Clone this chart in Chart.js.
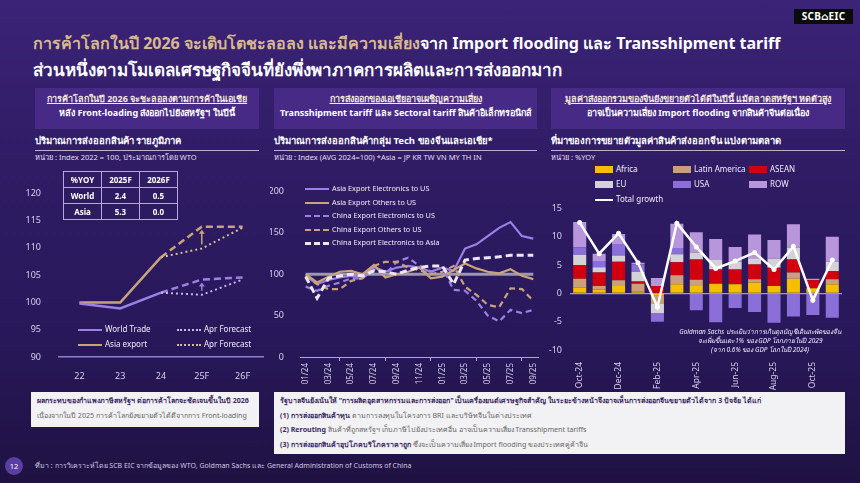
<!DOCTYPE html>
<html>
<head>
<meta charset="utf-8">
<script src="https://cdn.jsdelivr.net/npm/chart.js"></script>
<style>
  html, body { margin: 0; padding: 0; }
  body {
    width: 860px; height: 483px; overflow: hidden; position: relative;
    background: linear-gradient(180deg, #3b2377 0%, #2f1c64 35%, #28185a 70%, #1f1242 100%);
    font-family: "Noto Sans", "DejaVu Sans", sans-serif; color: #fff;
  }
  .abs { position: absolute; }
  .title { left: 33px; font-weight: bold; white-space: nowrap; }
  .logo { left: 794px; top: 9px; width: 59px; height: 15px; background: #0b0b0b; font-size: 10px;
          font-weight: bold; text-align: center; line-height: 15px; letter-spacing: 0.3px; }
  .hbox { top: 88px; height: 41px; background: #472a86; text-align: center; font-size: 9px; font-weight: bold; }
  .hbox div { line-height: 14px; }
  .hbox .u { text-decoration: underline; color: #f3e9dc; margin-top: 4px; }
  .sub { top: 133px; font-size: 9.5px; font-weight: bold; border-bottom: 1.5px solid #b9b0d6; padding-bottom: 2px; }
  .unit { top: 151px; font-size: 7.5px; color: #e4def2; white-space: nowrap; }
  .leg { font-size: 8px; color: #f1ecfb; white-space: nowrap; }
  .leg span.s { display: inline-block; width: 24px; vertical-align: middle; margin-right: 3px; }
  .sw { display: inline-block; width: 18px; height: 7px; vertical-align: middle; margin-right: 3px; }
  table.t { border-collapse: collapse; font-size: 8px; font-weight: bold; }
  table.t td { border: 1px solid #b6a6e2; width: 37px; height: 15px; text-align: center; padding: 0; }
  .wbox { background: #f2f1f4; color: #3a2a62; font-size: 7.1px; white-space: nowrap; }
  .wbox div { line-height: 14.5px; }
  .g { color: #666; font-weight: normal; }
  .note { font-size: 6.5px; font-style: italic; text-align: center; line-height: 9px; color: #f4f0ff; white-space: nowrap; }
</style>
</head>
<body>

<div class="abs title" style="top:31px;font-size:16px;"><span style="color:#d8b98e">การค้าโลกในปี 2026 จะเติบโตชะลอลง และมีความเสี่ยง</span>จาก Import flooding และ Transshipment tariff</div>
<div class="abs title" style="top:56px;font-size:17px;">ส่วนหนึ่งตามโมเดลเศรษฐกิจจีนที่ยังพึ่งพาภาคการผลิตและการส่งออกมาก</div>
<div class="abs logo">SCB⌂EIC</div>

<div class="abs hbox" style="left:35px;width:224px;"><div class="u">การค้าโลกในปี 2026 จะชะลอลงตามการค้าในเอเชีย</div><div>หลัง Front-loading ส่งออกไปยังสหรัฐฯ ในปีนี้</div></div>
<div class="abs hbox" style="left:274px;width:263px;"><div class="u">การส่งออกของเอเชียอาจเผชิญความเสี่ยง</div><div>Transshipment tariff และ Sectoral tariff สินค้าอิเล็กทรอนิกส์</div></div>
<div class="abs hbox" style="left:551px;width:294px;"><div class="u">มูลค่าส่งออกรวมของจีนยังขยายตัวได้ดีในปีนี้ แม้ตลาดสหรัฐฯ หดตัวสูง</div><div>อาจเป็นความเสี่ยง Import flooding จากสินค้าจีนต่อเนื่อง</div></div>

<div class="abs sub" style="left:35px;width:224px;">ปริมาณการส่งออกสินค้า รายภูมิภาค</div>
<div class="abs unit" style="left:35px;">หน่วย : Index 2022 = 100, ประมาณการโดย WTO</div>
<div class="abs sub" style="left:274px;width:263px;">ปริมาณการส่งออกสินค้ากลุ่ม Tech ของจีนและเอเชีย*</div>
<div class="abs unit" style="left:274px;">หน่วย : Index (AVG 2024=100) *Asia = JP KR TW VN MY TH IN</div>
<div class="abs sub" style="left:551px;width:294px;">ที่มาของการขยายตัวมูลค่าสินค้าส่งออกจีน แบ่งตามตลาด</div>
<div class="abs unit" style="left:551px;">หน่วย : %YOY</div>

<div class="abs" style="left:20px;top:178px;width:250px;height:205px;"><canvas id="c1"></canvas></div>
<div class="abs" style="left:270px;top:178px;width:275px;height:211px;"><canvas id="c2"></canvas></div>
<div class="abs" style="left:545px;top:195px;width:305px;height:195px;"><canvas id="c3"></canvas></div>

<table class="abs t" style="left:63px;top:171px;">
  <tr><td>%YOY</td><td>2025F</td><td>2026F</td></tr>
  <tr><td>World</td><td>2.4</td><td>0.5</td></tr>
  <tr><td>Asia</td><td>5.3</td><td>0.0</td></tr>
</table>

<div class="abs leg" style="left:78px;top:323px;"><span class="s" style="border-top:2.5px solid #9b80e6"></span>World Trade</div>
<div class="abs leg" style="left:177px;top:323px;"><span class="s" style="border-top:2px dotted #c7b8f2"></span>Apr Forecast</div>
<div class="abs leg" style="left:78px;top:338px;"><span class="s" style="border-top:2.5px solid #c9a47a"></span>Asia export</div>
<div class="abs leg" style="left:177px;top:338px;"><span class="s" style="border-top:2px dotted #d8bb90"></span>Apr Forecast</div>

<div class="abs leg" style="left:305px;top:182px;line-height:13.5px;font-size:7.3px;">
  <div><span class="s" style="border-top:2.5px solid #9b80e6"></span>Asia Export Electronics to US</div>
  <div><span class="s" style="border-top:2.5px solid #c9a47a"></span>Asia Export Others to US</div>
  <div><span class="s" style="border-top:2.5px dashed #9b80e6"></span>China Export Electronics to US</div>
  <div><span class="s" style="border-top:2.5px dashed #c9a47a"></span>China Export Others to US</div>
  <div><span class="s" style="border-top:3px dashed #ece6f8"></span>China Export Electronics to Asia</div>
</div>

<div class="abs leg" style="left:595px;top:163px;"><span class="sw" style="background:#f5bf00"></span>Africa</div>
<div class="abs leg" style="left:673px;top:163px;"><span class="sw" style="background:#c9a07a"></span>Latin America</div>
<div class="abs leg" style="left:749px;top:163px;"><span class="sw" style="background:#d2000f"></span>ASEAN</div>
<div class="abs leg" style="left:595px;top:178px;"><span class="sw" style="background:#d4d2d6"></span>EU</div>
<div class="abs leg" style="left:673px;top:178px;"><span class="sw" style="background:#8a6fd8"></span>USA</div>
<div class="abs leg" style="left:749px;top:178px;"><span class="sw" style="background:#b896dc"></span>ROW</div>
<div class="abs leg" style="left:595px;top:193px;"><span class="sw" style="height:0;border-top:2.5px solid #fff"></span>Total growth</div>

<div class="abs note" style="left:660px;top:327px;width:200px;">Goldman Sachs ประเมินว่าการเกินดุลบัญชีเดินสะพัดของจีน<br>จะเพิ่มขึ้นแตะ 1% ของ GDP โลกภายในปี 2029<br>(จาก 0.6% ของ GDP โลกในปี 2024)</div>

<div class="abs wbox" style="left:31px;top:392px;width:222px;height:34px;padding-left:6px;padding-top:1px;">
  <div><b>ผลกระทบของกำแพงภาษีสหรัฐฯ ต่อการค้าโลกจะชัดเจนขึ้นในปี 2026</b></div>
  <div class="g">เนื่องจากในปี 2025 การค้าโลกยังขยายตัวได้ดีจากการ Front-loading</div>
</div>
<div class="abs wbox" style="left:274px;top:392px;width:565px;height:61px;padding-left:6px;padding-top:1px;">
  <div><b>รัฐบาลจีนยังเน้นให้ "การผลิตอุตสาหกรรมและการส่งออก" เป็นเครื่องยนต์เศรษฐกิจสำคัญ ในระยะข้างหน้าจึงอาจเห็นการส่งออกจีนขยายตัวได้จาก 3 ปัจจัย ได้แก่</b></div>
  <div><b>(1) การส่งออกสินค้าทุน</b> <span class="g">ตามการลงทุนในโครงการ BRI และบริษัทจีนในต่างประเทศ</span></div>
  <div><b>(2) Rerouting</b> <span class="g">สินค้าที่ถูกสหรัฐฯ เก็บภาษีไปยังประเทศอื่น อาจเป็นความเสี่ยง Transshipment tariffs</span></div>
  <div><b>(3) การส่งออกสินค้าอุปโภคบริโภคราคาถูก</b> <span class="g">ซึ่งจะเป็นความเสี่ยง Import flooding ของประเทศคู่ค้าจีน</span></div>
</div>

<div class="abs" style="left:5px;top:457px;width:18px;height:18px;border-radius:9px;background:#5a3ea2;font-size:7.5px;text-align:center;line-height:18px;">12</div>
<div class="abs" style="left:35px;top:460px;font-size:7px;color:#cfc8e2;white-space:nowrap;">ที่มา : การวิเคราะห์โดย SCB EIC จากข้อมูลของ WTO, Goldman Sachs และ General Administration of Customs of China</div>

<script>
// ---- left: export volume by region ----
var years = ["22", "23", "24", "25F", "26F"];
var worldTrade = [99.8, 98.9, 101.8, null, null];
var worldNew = [null, null, 101.8, 104.2, 104.6];
var worldApr = [null, null, 101.8, 101.4, 104.2];
var asiaExport = [100, 100, 108.3, null, null];
var asiaNew = [null, null, 108.3, 113.9, 113.9];
var asiaApr = [null, null, 108.3, 109.9, 113.7];

// ---- middle: tech exports ----
var months = ["01/24","02/24","03/24","04/24","05/24","06/24","07/24","08/24","09/24","10/24","11/24","12/24",
              "01/25","02/25","03/25","04/25","05/25","06/25","07/25","08/25","09/25"];
var asiaElecUS   = [98, 88, 93, 96, 98, 97, 109, 103, 108, 110, 108, 103, 108, 104, 131, 136, 146, 156, 163, 146, 143];
var asiaOthersUS = [100, 90, 97, 103, 104, 100, 111, 96, 100, 103, 108, 95, 97, 105, 113, 107, 103, 101, 106, 98, 94];
var chinaElecUS  = [85, 80, 86, 90, 95, 95, 106, 100, 115, 120, 110, 103, 108, 81, 80, 68, 50, 43, 57, 53, 57];
var chinaOthersUS = [98, 88, 82, 82, 92, 95, 110, 115, 115, 108, 105, 100, 103, 110, 85, 75, 63, 60, 83, 82, 68];
var chinaElecAsia = [97, 71, 95, 98, 100, 98, 104, 103, 100, 105, 108, 110, 110, 88, 117, 119, 120, 121, 123, 123, 123];

// ---- right: China export growth by market ----
var mLabels = ["Oct-24","Nov-24","Dec-24","Jan-25","Feb-25","Mar-25","Apr-25","May-25","Jun-25","Jul-25","Aug-25","Sep-25","Oct-25","Nov-25"];
var africa = [1.0, 0.7, 1.3, 0.3, -0.4, 1.6, 1.3, 1.7, 1.6, 1.9, 1.3, 2.6, 0.9, 1.6];
var latam  = [1.6, 0.6, 1.0, 1.4, -1.5, 1.6, 1.1, 0, 0, 0.6, 0, 1.1, 0, 0.9];
var asean  = [2.4, 2.4, 3.3, 0.4, 1.3, 2.3, 3.6, 2.5, 2.6, 2.6, 3.2, 2.3, 1.4, 1.4];
var eu     = [1.8, 0.9, 1.1, 1.7, -1.6, 1.4, 1.2, 1.7, 1.4, 1.1, 1.6, 2.1, 0, 1.7];
var usa    = [1.3, 1.1, 2.0, 1.3, -1.5, 1.1, -3.0, -5.1, -2.6, -3.3, -5.2, -4.1, -3.8, -4.3];
var row    = [4.5, 1.3, 1.8, 0.3, 1.4, 4.3, 3.6, 3.7, 2.6, 4.2, 3.3, 4.1, 0.3, 4.4];
var totalGrowth = [12.5, 7.0, 10.6, 5.4, -2.4, 12.4, 8.2, 4.4, 5.7, 7.2, 4.2, 8.3, -1.2, 5.9];

Chart.defaults.font.family = '"Noto Sans", "DejaVu Sans", sans-serif';
Chart.defaults.color = "#d8d0ee";
Chart.defaults.animation = false;
Chart.defaults.plugins.legend.display = false;
Chart.defaults.plugins.tooltip.enabled = false;

var purple = "#9b80e6", tan = "#c9a47a";

function fixW(w) { return function (s) { s.width = w; }; }
function fixH(h) { return function (s) { s.height = h; }; }

// arrows from April forecast up to the new forecast at 25F
var upArrows = {
  id: "upArrows",
  afterDatasetsDraw: function (chart) {
    var ctx = chart.ctx, x = chart.scales.x, y = chart.scales.y;
    [[worldApr, worldNew, purple], [asiaApr, asiaNew, tan]].forEach(function (p) {
      var px = x.getPixelForValue(3);
      var y0 = y.getPixelForValue(p[0][3]) - 4, y1 = y.getPixelForValue(p[1][3]) + 3;
      ctx.save();
      ctx.strokeStyle = p[2]; ctx.fillStyle = p[2]; ctx.lineWidth = 1.5;
      ctx.beginPath(); ctx.moveTo(px, y0); ctx.lineTo(px, y1 + 3); ctx.stroke();
      ctx.beginPath(); ctx.moveTo(px, y1); ctx.lineTo(px - 3, y1 + 4); ctx.lineTo(px + 3, y1 + 4); ctx.closePath(); ctx.fill();
      ctx.restore();
    });
  }
};

new Chart("c1", {
  type: "line",
  data: {
    labels: years,
    datasets: [
      { data: worldApr, borderColor: "#c7b8f2", borderWidth: 2, borderDash: [2, 3], pointRadius: 0 },
      { data: asiaApr, borderColor: "#d8bb90", borderWidth: 2, borderDash: [2, 3], pointRadius: 0 },
      { data: worldNew, borderColor: purple, borderWidth: 2.5, borderDash: [7, 4], pointRadius: 0 },
      { data: asiaNew, borderColor: tan, borderWidth: 2.5, borderDash: [7, 4], pointRadius: 0 },
      { data: worldTrade, borderColor: purple, borderWidth: 2.5, pointRadius: 0 },
      { data: asiaExport, borderColor: tan, borderWidth: 2.5, pointRadius: 0 }
    ]
  },
  options: {
    responsive: true, maintainAspectRatio: false,
    layout: { padding: { top: 10, right: 7 } },
    scales: {
      x: { offset: true, grid: { display: false }, border: { color: "#8d7fcc", width: 1.5 },
           ticks: { font: { size: 9 }, padding: 6 }, afterFit: fixH(26) },
      y: { min: 90, max: 120, ticks: { stepSize: 5, font: { size: 9 }, padding: 10 },
           grid: { display: false }, border: { display: false }, afterFit: fixW(39) }
    }
  },
  plugins: [upArrows]
});

// grey reference line at 100
var baseLine = {
  id: "baseLine",
  beforeDatasetsDraw: function (chart) {
    var ctx = chart.ctx, x = chart.scales.x, y = chart.scales.y;
    var py = y.getPixelForValue(100);
    ctx.save();
    ctx.strokeStyle = "#9c99ad"; ctx.lineWidth = 3;
    ctx.beginPath(); ctx.moveTo(x.getPixelForValue(0), py); ctx.lineTo(x.getPixelForValue(months.length - 1), py); ctx.stroke();
    ctx.restore();
  }
};

new Chart("c2", {
  type: "line",
  data: {
    labels: months,
    datasets: [
      { data: chinaElecAsia, borderColor: "#ece6f8", borderWidth: 3, borderDash: [7, 4], pointRadius: 0 },
      { data: chinaOthersUS, borderColor: tan, borderWidth: 2.2, borderDash: [6, 4], pointRadius: 0 },
      { data: chinaElecUS, borderColor: purple, borderWidth: 2.2, borderDash: [6, 4], pointRadius: 0 },
      { data: asiaOthersUS, borderColor: tan, borderWidth: 2.2, pointRadius: 0 },
      { data: asiaElecUS, borderColor: purple, borderWidth: 2.2, pointRadius: 0 }
    ]
  },
  options: {
    responsive: true, maintainAspectRatio: false,
    layout: { padding: { top: 10, right: 4 } },
    scales: {
      x: { offset: true,
           grid: { offset: true, drawOnChartArea: false, drawTicks: true, tickLength: 4, color: "#b0a8c8" },
           border: { color: "#b0a8c8", width: 1 },
           ticks: { font: { size: 8 }, minRotation: 90, maxRotation: 90, autoSkip: true, maxTicksLimit: 11, padding: 2 },
           afterFit: fixH(32) },
      y: { min: 0, max: 200, ticks: { stepSize: 50, font: { size: 9 }, padding: 8 },
           grid: { display: false }, border: { display: false }, afterFit: fixW(30) }
    }
  },
  plugins: [baseLine]
});

function bar(data, color) {
  return { type: "bar", data: data, backgroundColor: color, stack: "m", order: 1,
           categoryPercentage: 0.8, barPercentage: 0.84 };
}

new Chart("c3", {
  data: {
    labels: mLabels,
    datasets: [
      { type: "line", data: totalGrowth, borderColor: "#ffffff", borderWidth: 2.5, pointRadius: 2.5,
        pointBackgroundColor: "#ffffff", pointBorderWidth: 0, stack: "tg", order: 0 },
      bar(africa, "#f5bf00"),
      bar(latam, "#c9a07a"),
      bar(asean, "#d2000f"),
      bar(eu, "#d4d2d6"),
      bar(usa, "#8a6fd8"),
      bar(row, "#b896dc")
    ]
  },
  options: {
    responsive: true, maintainAspectRatio: false,
    layout: { padding: { top: 10, right: 8 } },
    scales: {
      x: { stacked: true, offset: true, grid: { display: false }, border: { display: false },
           ticks: { font: { size: 8.5 }, minRotation: 90, maxRotation: 90, autoSkip: false, padding: 4,
                    callback: function (v, i) { return i % 2 === 0 ? mLabels[i] : ""; } },
           afterFit: fixH(40) },
      y: { stacked: true, min: -10, max: 15,
           ticks: { stepSize: 5, font: { size: 9 }, padding: 8 },
           grid: { drawTicks: false, lineWidth: 1.2,
                   color: function (c) { return c.tick && c.tick.value === 0 ? "#a395d6" : "rgba(0,0,0,0)"; } },
           border: { display: false }, afterFit: fixW(25) }
    }
  }
});
</script>
</body>
</html>
